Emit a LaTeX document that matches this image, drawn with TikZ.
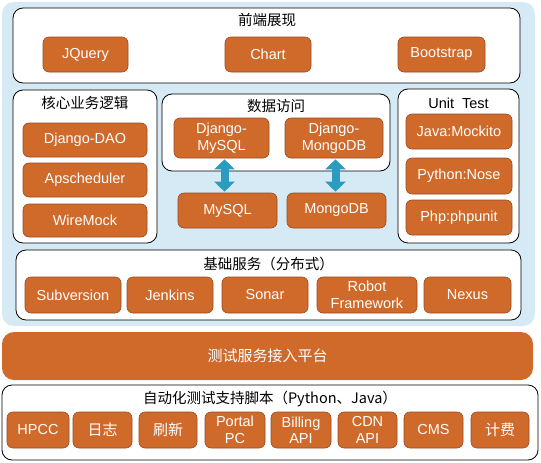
\documentclass[tikz,border=0pt]{standalone}
\usepackage{fontspec}
\setmainfont{Liberation Sans}
\newfontfamily\cjk{Noto Sans CJK SC}
\usetikzlibrary{arrows.meta,calc}
\definecolor{org}{HTML}{D06A2B}
\definecolor{orgdark}{HTML}{9A4A22}
\definecolor{bgblue}{HTML}{D5EAF4}
\definecolor{teal}{HTML}{2A9CC0}
\tikzset{
  btn/.style={rectangle, rounded corners=6pt, fill=org, draw=orgdark, line width=0.6pt,
    text=white, font=\fontsize{14.5}{16.5}\selectfont, align=center, inner sep=0pt},
  panel/.style={rectangle, rounded corners=10pt, fill=white, draw=black, line width=0.8pt, inner sep=0pt},
  ptitle/.style={font=\cjk\fontsize{14.5}{16}\selectfont, inner sep=0pt},
  dbl/.style={draw=teal, line width=8pt, {Triangle[width=20pt,length=10pt]}-{Triangle[width=20pt,length=10pt]}}
}
\begin{document}
\begin{tikzpicture}[x=1pt,y=-1pt]
\useasboundingbox (0,0) rectangle (541,463);
% background
\node[rectangle, rounded corners=12pt, fill=bgblue, minimum width=533pt, minimum height=324pt, inner sep=0pt] (bg) at (268.5,164) {};

% top panel
\node[panel, minimum width=507pt, minimum height=75pt] (front) at (266.5,45.5) {};
\node[ptitle] (frontt) at (267,20) {前端展现};
\node[btn, minimum width=85pt, minimum height=35pt] (jq) at (85.5,54.5) {JQuery};
\node[btn, minimum width=86pt, minimum height=35pt] (chart) at (268,54.5) {Chart};
\node[btn, minimum width=87pt, minimum height=35pt] (bs) at (441.5,54.5) {Bootstrap};

% core panel
\node[panel, minimum width=144pt, minimum height=153pt] (core) at (85,166.5) {};
\node[ptitle] (coret) at (85,103) {核心业务逻辑};
\node[btn, minimum width=124pt, minimum height=34pt] (dao) at (85,140) {Django-DAO};
\node[btn, minimum width=124pt, minimum height=34pt] (aps) at (85,180) {Apscheduler};
\node[btn, minimum width=124pt, minimum height=33pt] (wm) at (85,220.5) {WireMock};

% data panel
\node[panel, minimum width=228pt, minimum height=77pt] (data) at (276,132.5) {};
\node[ptitle] (datat) at (276,106) {数据访问};
\node[btn, minimum width=95pt, minimum height=40pt] (dm) at (221.5,138) {Django-\\MySQL};
\node[btn, minimum width=98pt, minimum height=40pt] (dg) at (334,138) {Django-\\MongoDB};
\node[btn, minimum width=99pt, minimum height=35pt] (my) at (227.5,210.5) {MySQL};
\node[btn, minimum width=99pt, minimum height=35pt] (mg) at (336.5,210.5) {MongoDB};
\draw[dbl, shorten <=1pt, shorten >=1pt] ($(dm.south)+(3,0)$) -- ($(my.north)+(-3,0)$);
\draw[dbl, shorten <=1pt, shorten >=1pt] ($(dg.south)+(1.5,0)$) -- ($(mg.north)+(-1,0)$);

% unit test panel
\node[panel, minimum width=121pt, minimum height=154pt] (ut) at (458.5,166) {};
\node[font=\fontsize{14.5}{16}\selectfont, inner sep=0pt] (utt) at (458.5,103) {Unit~~Test};
\node[btn, minimum width=106pt, minimum height=35pt] (jm) at (459,131.5) {Java:Mockito};
\node[btn, minimum width=106pt, minimum height=36pt] (pn) at (459,176) {Python:Nose};
\node[btn, minimum width=106pt, minimum height=35pt] (pp) at (459,217.5) {Php:phpunit};

% base services panel
\node[panel, minimum width=505pt, minimum height=70pt] (base) at (268.5,285) {};
\node[ptitle] (baset) at (268.5,264) {基础服务（分布式）};
\node[btn, minimum width=96pt, minimum height=36pt] (svn) at (73,295) {Subversion};
\node[btn, minimum width=86pt, minimum height=36pt] (jk) at (170,295) {Jenkins};
\node[btn, minimum width=86pt, minimum height=36pt] (sn) at (265,295) {Sonar};
\node[btn, minimum width=100pt, minimum height=36pt] (rf) at (367,295) {Robot\\Framework};
\node[btn, minimum width=87pt, minimum height=36pt] (nx) at (467.5,295) {Nexus};

% platform bar
\node[rectangle, rounded corners=12pt, fill=org, minimum width=531pt, minimum height=48pt, inner sep=0pt,
  text=white, font=\cjk\fontsize{15}{16}\selectfont] (plat) at (267.5,356) {测试服务接入平台};

% automation panel
\node[panel, minimum width=536pt, minimum height=75pt] (auto) at (270,422.5) {};
\node[ptitle] (autot) at (270,399) {自动化测试支持脚本（Python、Java）};
\node[btn, minimum width=62pt, minimum height=36pt] (hpcc) at (38,430) {HPCC};
\node[btn, minimum width=59pt, minimum height=36pt, font=\cjk\fontsize{15}{16}\selectfont] (log) at (102.5,430) {日志};
\node[btn, minimum width=58pt, minimum height=36pt, font=\cjk\fontsize{15}{16}\selectfont] (ref) at (168,430) {刷新};
\node[btn, minimum width=60pt, minimum height=36pt] (ppc) at (235,430) {Portal\\PC};
\node[btn, minimum width=60pt, minimum height=36pt] (bill) at (301,430) {Billing\\API};
\node[btn, minimum width=59pt, minimum height=36pt] (cdn) at (367.5,430) {CDN\\API};
\node[btn, minimum width=59pt, minimum height=36pt] (cms) at (433.5,430) {CMS};
\node[btn, minimum width=58pt, minimum height=36pt, font=\cjk\fontsize{15}{16}\selectfont] (fee) at (500,430) {计费};
\end{tikzpicture}
\end{document}
